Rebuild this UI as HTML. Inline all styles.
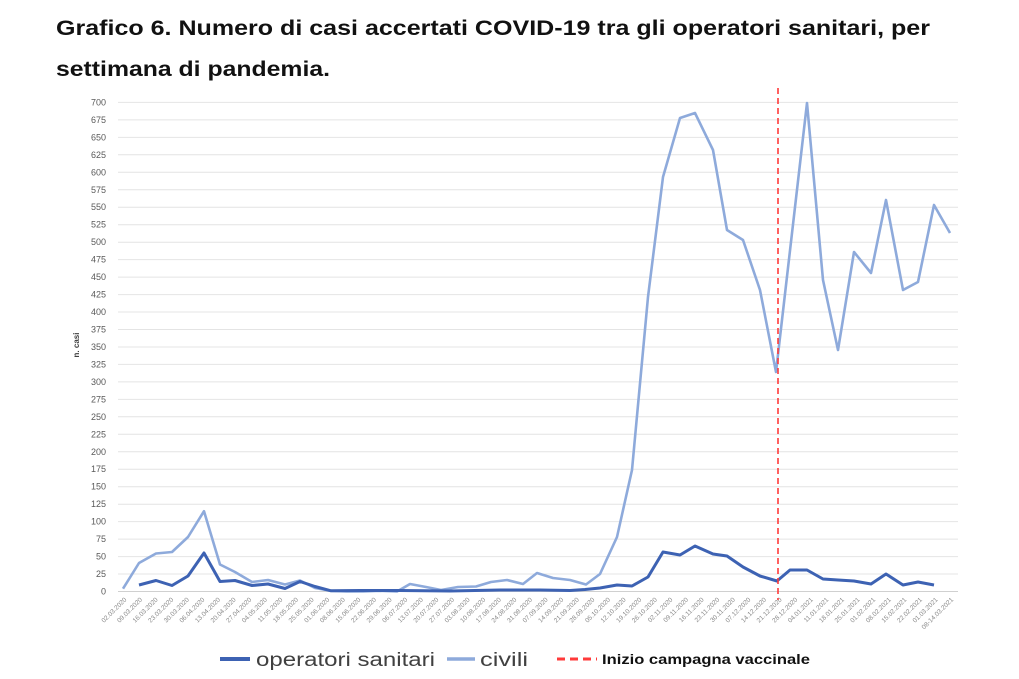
<!DOCTYPE html>
<html><head><meta charset="utf-8"><style>
html,body{margin:0;padding:0;background:#fff;}
svg{display:block;font-family:"Liberation Sans",sans-serif;}
</style></head><body>
<svg width="1019" height="679" viewBox="0 0 1019 679" xmlns="http://www.w3.org/2000/svg">
<rect width="1019" height="679" fill="#fff"/>
<text x="56" y="35" font-size="21" font-weight="bold" fill="#111" textLength="874" lengthAdjust="spacingAndGlyphs">Grafico 6. Numero di casi accertati COVID-19 tra gli operatori sanitari, per</text>
<text x="56" y="76" font-size="21" font-weight="bold" fill="#111" textLength="274" lengthAdjust="spacingAndGlyphs">settimana di pandemia.</text>
<g stroke="#e4e4e4" stroke-width="1">
<line x1="118" x2="958" y1="591.5" y2="591.5" stroke="#d0d0d0"/>
<line x1="118" x2="958" y1="574.0" y2="574.0"/><line x1="118" x2="958" y1="556.6" y2="556.6"/><line x1="118" x2="958" y1="539.1" y2="539.1"/><line x1="118" x2="958" y1="521.6" y2="521.6"/><line x1="118" x2="958" y1="504.2" y2="504.2"/><line x1="118" x2="958" y1="486.7" y2="486.7"/><line x1="118" x2="958" y1="469.2" y2="469.2"/><line x1="118" x2="958" y1="451.8" y2="451.8"/><line x1="118" x2="958" y1="434.3" y2="434.3"/><line x1="118" x2="958" y1="416.8" y2="416.8"/><line x1="118" x2="958" y1="399.4" y2="399.4"/><line x1="118" x2="958" y1="381.9" y2="381.9"/><line x1="118" x2="958" y1="364.4" y2="364.4"/><line x1="118" x2="958" y1="347.0" y2="347.0"/><line x1="118" x2="958" y1="329.5" y2="329.5"/><line x1="118" x2="958" y1="312.0" y2="312.0"/><line x1="118" x2="958" y1="294.6" y2="294.6"/><line x1="118" x2="958" y1="277.1" y2="277.1"/><line x1="118" x2="958" y1="259.6" y2="259.6"/><line x1="118" x2="958" y1="242.2" y2="242.2"/><line x1="118" x2="958" y1="224.7" y2="224.7"/><line x1="118" x2="958" y1="207.2" y2="207.2"/><line x1="118" x2="958" y1="189.8" y2="189.8"/><line x1="118" x2="958" y1="172.3" y2="172.3"/><line x1="118" x2="958" y1="154.8" y2="154.8"/><line x1="118" x2="958" y1="137.4" y2="137.4"/><line x1="118" x2="958" y1="119.9" y2="119.9"/><line x1="118" x2="958" y1="102.4" y2="102.4"/>
</g>
<g font-size="9" fill="#595959" text-anchor="end">
<text x="106" y="594.5">0</text><text x="106" y="577">25</text><text x="106" y="559.6">50</text><text x="106" y="542.1">75</text><text x="106" y="524.6">100</text><text x="106" y="507.2">125</text><text x="106" y="489.7">150</text><text x="106" y="472.2">175</text><text x="106" y="454.8">200</text><text x="106" y="437.3">225</text><text x="106" y="419.8">250</text><text x="106" y="402.4">275</text><text x="106" y="384.9">300</text><text x="106" y="367.4">325</text><text x="106" y="350">350</text><text x="106" y="332.5">375</text><text x="106" y="315">400</text><text x="106" y="297.6">425</text><text x="106" y="280.1">450</text><text x="106" y="262.6">475</text><text x="106" y="245.2">500</text><text x="106" y="227.7">525</text><text x="106" y="210.2">550</text><text x="106" y="192.8">575</text><text x="106" y="175.3">600</text><text x="106" y="157.8">625</text><text x="106" y="140.4">650</text><text x="106" y="122.9">675</text><text x="106" y="105.4">700</text>
</g>
<text transform="translate(79,345) rotate(-90)" font-size="8" font-weight="bold" fill="#404040" text-anchor="middle">n. casi</text>
<g font-size="6.5" fill="#8a8a8a" text-anchor="end">
<text transform="translate(127,600) rotate(-45)">02.03.2020</text><text transform="translate(142.6,600) rotate(-45)">09.03.2020</text><text transform="translate(158.2,600) rotate(-45)">16.03.2020</text><text transform="translate(173.8,600) rotate(-45)">23.03.2020</text><text transform="translate(189.4,600) rotate(-45)">30.03.2020</text><text transform="translate(205,600) rotate(-45)">06.04.2020</text><text transform="translate(220.6,600) rotate(-45)">13.04.2020</text><text transform="translate(236.2,600) rotate(-45)">20.04.2020</text><text transform="translate(251.8,600) rotate(-45)">27.04.2020</text><text transform="translate(267.4,600) rotate(-45)">04.05.2020</text><text transform="translate(283,600) rotate(-45)">11.05.2020</text><text transform="translate(298.6,600) rotate(-45)">18.05.2020</text><text transform="translate(314.2,600) rotate(-45)">25.05.2020</text><text transform="translate(329.8,600) rotate(-45)">01.06.2020</text><text transform="translate(345.4,600) rotate(-45)">08.06.2020</text><text transform="translate(361,600) rotate(-45)">15.06.2020</text><text transform="translate(376.6,600) rotate(-45)">22.06.2020</text><text transform="translate(392.2,600) rotate(-45)">29.06.2020</text><text transform="translate(407.8,600) rotate(-45)">06.07.2020</text><text transform="translate(423.4,600) rotate(-45)">13.07.2020</text><text transform="translate(439,600) rotate(-45)">20.07.2020</text><text transform="translate(454.6,600) rotate(-45)">27.07.2020</text><text transform="translate(470.2,600) rotate(-45)">03.08.2020</text><text transform="translate(485.8,600) rotate(-45)">10.08.2020</text><text transform="translate(501.4,600) rotate(-45)">17.08.2020</text><text transform="translate(517,600) rotate(-45)">24.08.2020</text><text transform="translate(532.6,600) rotate(-45)">31.08.2020</text><text transform="translate(548.2,600) rotate(-45)">07.09.2020</text><text transform="translate(563.8,600) rotate(-45)">14.09.2020</text><text transform="translate(579.4,600) rotate(-45)">21.09.2020</text><text transform="translate(595,600) rotate(-45)">28.09.2020</text><text transform="translate(610.6,600) rotate(-45)">05.10.2020</text><text transform="translate(626.2,600) rotate(-45)">12.10.2020</text><text transform="translate(641.8,600) rotate(-45)">19.10.2020</text><text transform="translate(657.4,600) rotate(-45)">26.10.2020</text><text transform="translate(673,600) rotate(-45)">02.11.2020</text><text transform="translate(688.6,600) rotate(-45)">09.11.2020</text><text transform="translate(704.2,600) rotate(-45)">16.11.2020</text><text transform="translate(719.8,600) rotate(-45)">23.11.2020</text><text transform="translate(735.4,600) rotate(-45)">30.11.2020</text><text transform="translate(751,600) rotate(-45)">07.12.2020</text><text transform="translate(766.6,600) rotate(-45)">14.12.2020</text><text transform="translate(782.2,600) rotate(-45)">21.12.2020</text><text transform="translate(797.8,600) rotate(-45)">28.12.2020</text><text transform="translate(813.4,600) rotate(-45)">04.01.2021</text><text transform="translate(829,600) rotate(-45)">11.01.2021</text><text transform="translate(844.6,600) rotate(-45)">18.01.2021</text><text transform="translate(860.2,600) rotate(-45)">25.01.2021</text><text transform="translate(875.8,600) rotate(-45)">01.02.2021</text><text transform="translate(891.4,600) rotate(-45)">08.02.2021</text><text transform="translate(907,600) rotate(-45)">15.02.2021</text><text transform="translate(922.6,600) rotate(-45)">22.02.2021</text><text transform="translate(938.2,600) rotate(-45)">01.03.2021</text><text transform="translate(953.8,600) rotate(-45)">08-14.03.2021</text>
</g>
<polyline fill="none" stroke="#8eaadb" stroke-width="2.6" stroke-linejoin="round" points="123,588.7 139,563 156,553.5 172,552 188,537 204,511.2 220,564.5 235,572 252,582 268,580 285,584.5 300,580.5 315,588 331,590.8 347,591.5 363,591.5 379,590.8 397,591.5 410,584 426,587 441,590 458,587 476,586.5 491,582 507,580 523,584 537,573 553,578 570,580 586,584.5 600,574 617,537 632,470 648,297 663,177 680,118 695,113 713,150 727,230 743,240 760,290 776,372 807,103 823,280 838,350 854,252 871,273 886,200 903,290 918,282 934,205 950,233"/>
<polyline fill="none" stroke="#3d62b3" stroke-width="3" stroke-linejoin="round" points="139,585 156,580.5 172,585.5 188,576 204,553 220,581.5 235,580.5 252,585.5 268,584 285,588.5 300,581.5 315,586.5 331,590.8 360,590.5 400,590.5 450,591 500,590 540,590 570,590.5 585,589.5 600,588 617,585 632,586 648,577 663,552 680,555 695,546 713,554 727,556 743,567 760,576 777,581 790,570 807,570 823,579 838,580 854,581 871,584 886,574 903,585 918,582 934,585"/>
<line x1="778" x2="778" y1="88" y2="600" stroke="#ff3a3a" stroke-width="1.6" stroke-dasharray="6,4"/>
<line x1="220" x2="250" y1="659" y2="659" stroke="#3d62b3" stroke-width="4"/>
<text x="256" y="666" font-size="19" fill="#404040" textLength="179" lengthAdjust="spacingAndGlyphs">operatori sanitari</text>
<line x1="447" x2="475" y1="659" y2="659" stroke="#8eaadb" stroke-width="3.5"/>
<text x="480" y="666" font-size="19" fill="#404040" textLength="48" lengthAdjust="spacingAndGlyphs">civili</text>
<line x1="557" x2="597" y1="659" y2="659" stroke="#ff3a3a" stroke-width="3" stroke-dasharray="8,5"/>
<text x="602" y="664" font-size="14" font-weight="bold" fill="#111" textLength="208" lengthAdjust="spacingAndGlyphs">Inizio campagna vaccinale</text>
</svg>
</body></html>
